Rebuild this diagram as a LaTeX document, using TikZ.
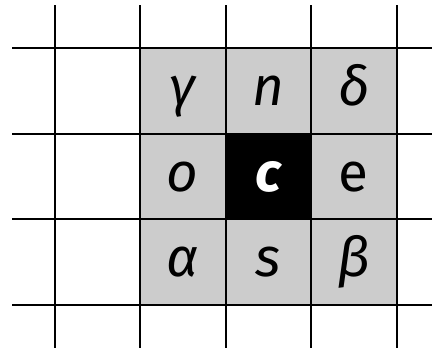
\documentclass[tikz,border=0pt]{standalone}
\usepackage{fontspec}
\setmainfont{Fira Sans}
\begin{document}
\begin{tikzpicture}[x=1bp,y=1bp,
  gridline/.style={line width=2bp,black},
  cellbox/.style={minimum width=85.5bp,minimum height=85.5bp,inner sep=0pt,outer sep=0pt},
  greycell/.style={cellbox,fill=cellgrey},
  blackcell/.style={cellbox,fill=black},
  lbl/.style={anchor=base,inner sep=0pt,font=\fontsize{55}{55}\selectfont\itshape}]
\definecolor{cellgrey}{HTML}{CCCCCC}
\useasboundingbox (0,0) rectangle (432,348);
% cells
\node[greycell] (g) at (182.75,256.75) {};
\node[greycell] (n) at (268.25,256.75) {};
\node[greycell] (d) at (353.75,256.75) {};
\node[greycell] (o) at (182.75,171.25) {};
\node[blackcell] (c) at (268.25,171.25) {};
\node[greycell] (e) at (353.75,171.25) {};
\node[greycell] (a) at (182.75,85.75) {};
\node[greycell] (s) at (268.25,85.75) {};
\node[greycell] (b) at (353.75,85.75) {};
% labels
\node[lbl] (tg) at ([yshift=-14.5bp]g.center) {γ};
\node[lbl] (tn) at ([yshift=-14.5bp]n.center) {n};
\node[lbl] (td) at ([yshift=-14.5bp]d.center) {δ};
\node[lbl] (to) at ([yshift=-14.5bp]o.center) {o};
\node[lbl,font=\fontsize{55}{55}\selectfont\bfseries\itshape,text=white] (tc) at ([yshift=-14.5bp]c.center) {c};
\node[lbl,font=\fontsize{55}{55}\selectfont] (te) at ([yshift=-14.5bp]e.center) {e};
\node[lbl] (ta) at ([yshift=-14.5bp]a.center) {α};
\node[lbl] (ts) at ([yshift=-14.5bp]s.center) {s};
\node[lbl] (tb) at ([yshift=-14.5bp]b.center) {β};
% grid
\foreach \x in {54.5,140,225.5,311,396.5} \draw[gridline] (\x,0) -- (\x,343);
\foreach \y in {299.5,214,128.5,43} \draw[gridline] (12,\y) -- (432,\y);
\end{tikzpicture}
\end{document}
